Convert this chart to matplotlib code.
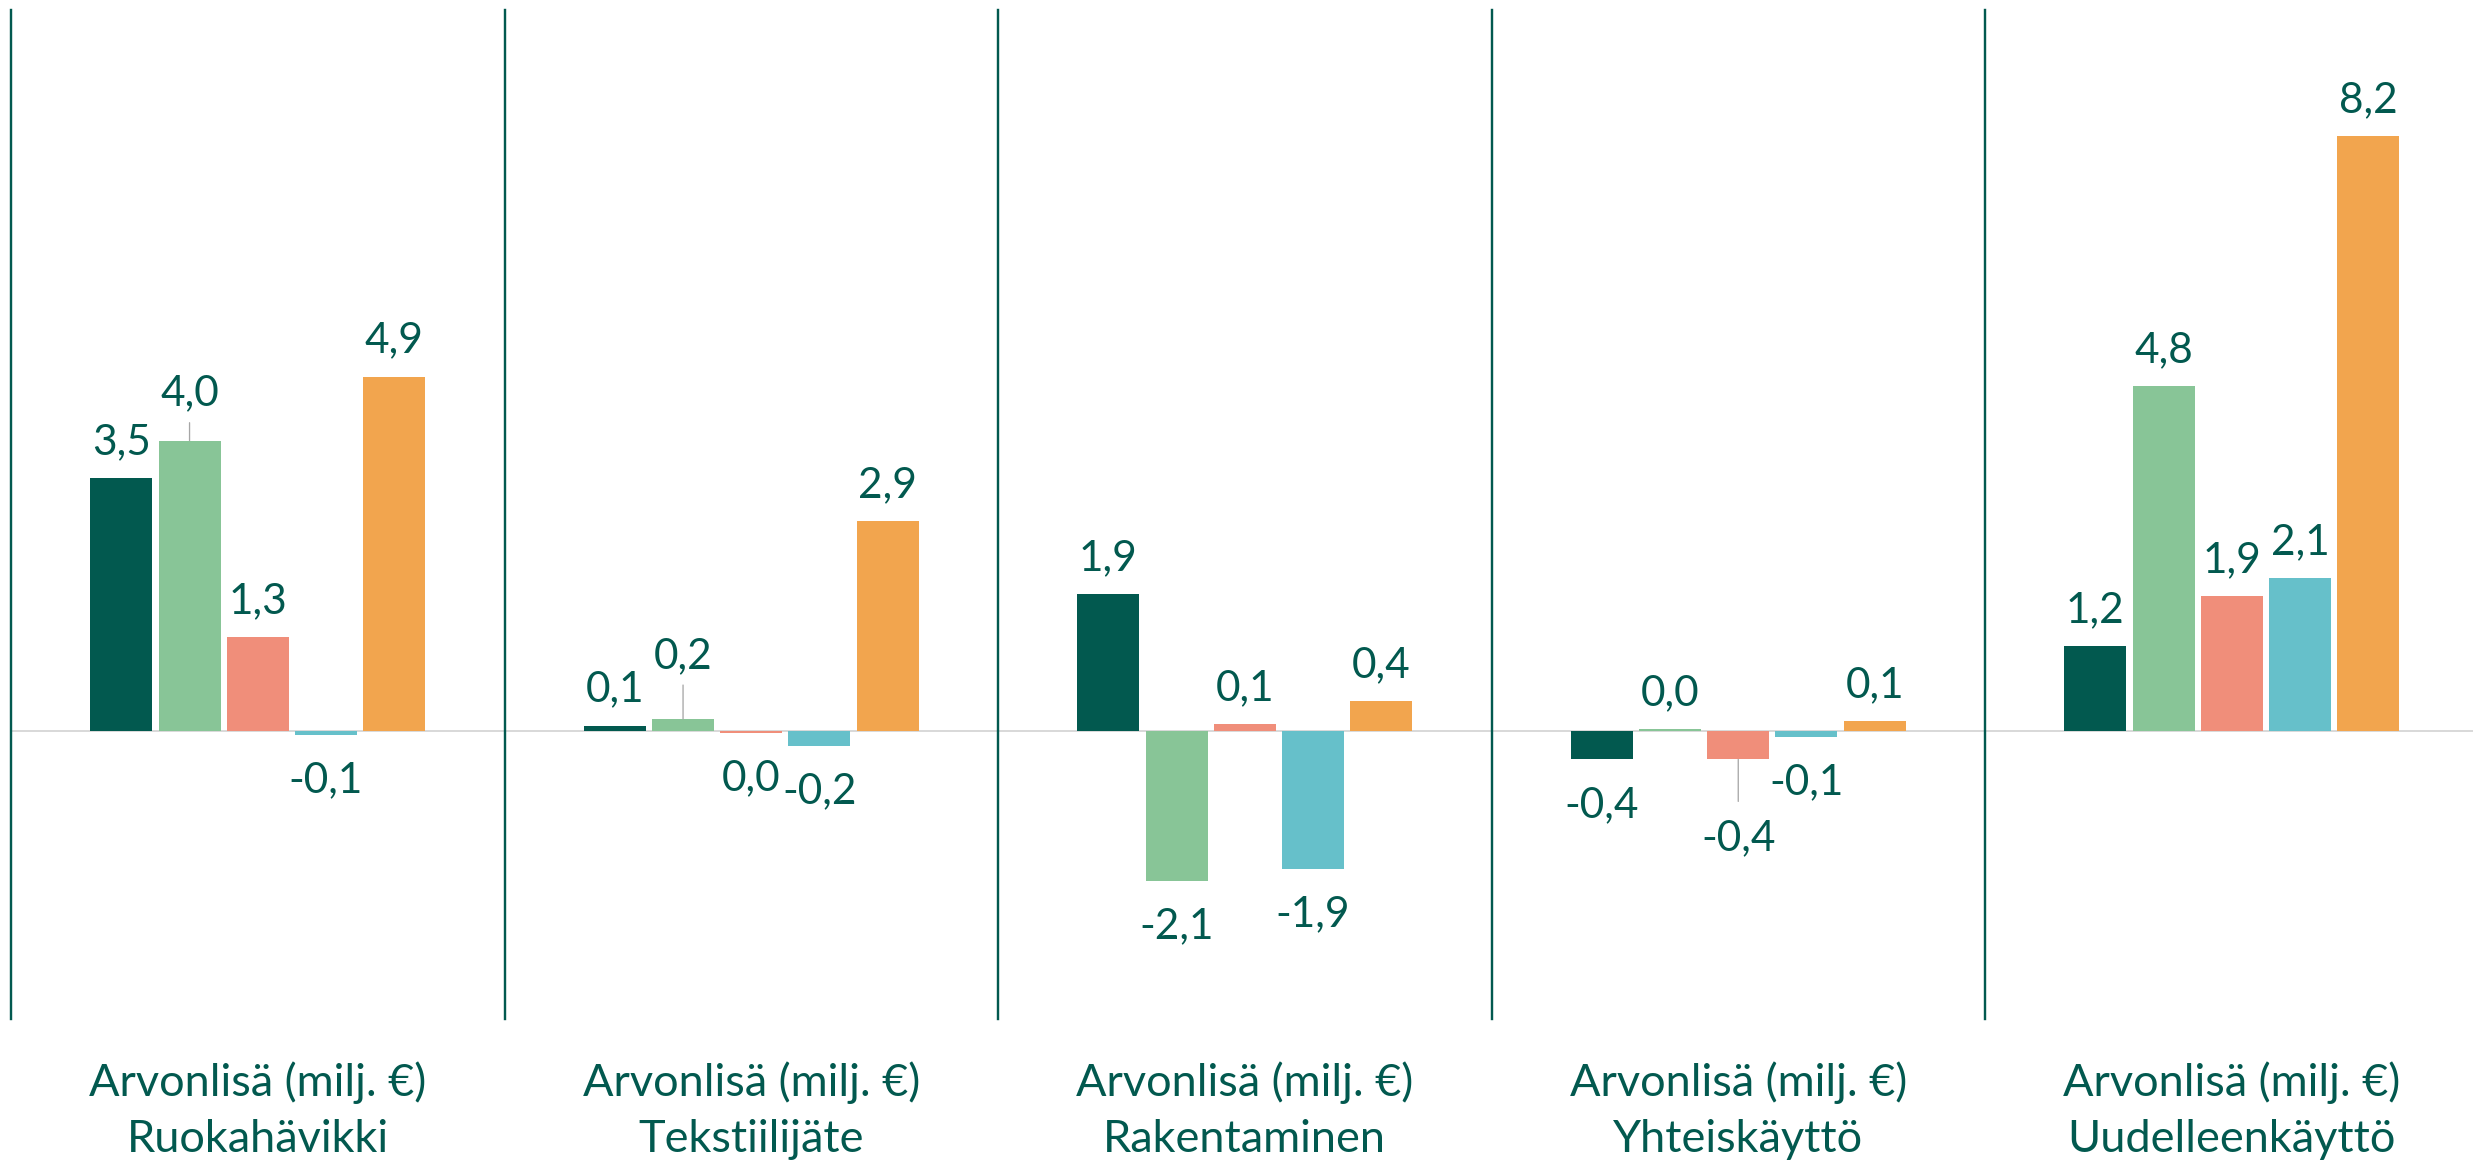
import numpy as np
import matplotlib
matplotlib.use("Agg")
import matplotlib.pyplot as plt


# ----------------------------
# Data
# ----------------------------
categories = ["Ruokahävikki", "Tekstiilijäte", "Rakentaminen", "Yhteiskäyttö", "Uudelleenkäyttö"]
value_title = "Arvonlisä (milj. €)"

# bar heights
series_1 = [3.50, 0.07, 1.89, -0.40, 1.17]
series_2 = [4.02, 0.16, -2.09, 0.02, 4.78]
series_3 = [1.30, -0.03, 0.09, -0.40, 1.87]
series_4 = [-0.06, -0.21, -1.92, -0.09, 2.12]
series_5 = [4.91, 2.91, 0.41, 0.13, 8.24]

# data labels as printed in the picture
labels_1 = ["3,5", "0,1", "1,9", "-0,4", "1,2"]
labels_2 = ["4,0", "0,2", "-2,1", "0,0", "4,8"]
labels_3 = ["1,3", "0,0", "0,1", "-0,4", "1,9"]
labels_4 = ["-0,1", "-0,2", "-1,9", "-0,1", "2,1"]
labels_5 = ["4,9", "2,9", "0,4", "0,1", "8,2"]


# ----------------------------
# Style
# ----------------------------
W, H, DPI = 2473, 1162, 100
PX = 72 / DPI  # pixels -> points

TEAL = "#02594F"
COLORS = ["#02594F", "#88C597", "#F08E7A", "#66C0CA", "#F2A54E"]
ZERO_COLOR = "#D9D9D9"
LEADER_COLOR = "#A6A6A6"

plt.rcParams["font.family"] = ["Lato", "DejaVu Sans"]

BAR_W = 0.1256
PITCH = 0.1382
LABEL_SIZE = 30.5
CAT_SIZE = 32.5

# labels moved by hand in the original (series, category) -> extra pixels, with leader line
moved = {(1, 0): 11, (1, 1): 27, (2, 3): -33}

all_series = [series_1, series_2, series_3, series_4, series_5]
all_labels = [labels_1, labels_2, labels_3, labels_4, labels_5]


# ----------------------------
# Figure
# ----------------------------
fig = plt.figure(figsize=(W / DPI, H / DPI), dpi=DPI)
left, top, bottom = 11, 9.5, 1019
ax = fig.add_axes([left / W, 1 - bottom / H, 1 - left / W, (bottom - top) / H])
ax.set_xlim(-0.5, -0.5 + (W - left) / 493.5)
ax.set_ylim(-4, 10)
ax.axis("off")

ax.axhline(0, color=ZERO_COLOR, lw=2 * PX, zorder=1)
for xv in np.arange(len(categories)) - 0.5:
    ax.axvline(xv, color=TEAL, lw=2.4 * PX, zorder=3, clip_on=False)

x = np.arange(len(categories))
for j, (vals, labs) in enumerate(zip(all_series, all_labels)):
    xs = x + (j - 2) * PITCH
    ax.bar(xs, vals, width=BAR_W, color=COLORS[j], zorder=2)

    for i, (xv, v, lab) in enumerate(zip(xs, vals, labs)):
        extra = moved.get((j, i), 0)
        if v >= 0:
            dy = 24 + extra
            leader_end = dy - 17
        else:
            dy = -(29 + 28.3) + extra
            leader_end = -29 + extra + 20
        ax.annotate(lab, xy=(xv, v), xytext=(0, dy * PX), textcoords="offset points",
                    ha="center", va="baseline", fontsize=LABEL_SIZE, color=TEAL)
        if extra:
            ax.annotate("", xy=(xv, v), xytext=(0, leader_end * PX), textcoords="offset points",
                        arrowprops=dict(arrowstyle="-", color=LEADER_COLOR, lw=1.3 * PX,
                                        shrinkA=0, shrinkB=0))


# ----------------------------
# Category labels
# ----------------------------
for i, name in enumerate(categories):
    cx = ax.transData.transform((i, 0))[0] / W
    fig.text(cx, 1 - 1096 / H, value_title, fontsize=CAT_SIZE, color=TEAL,
             ha="center", va="baseline")
    fig.text(cx, 1 - 1152 / H, name, fontsize=CAT_SIZE, color=TEAL,
             ha="center", va="baseline")

fig.savefig("out.png", dpi=DPI)
